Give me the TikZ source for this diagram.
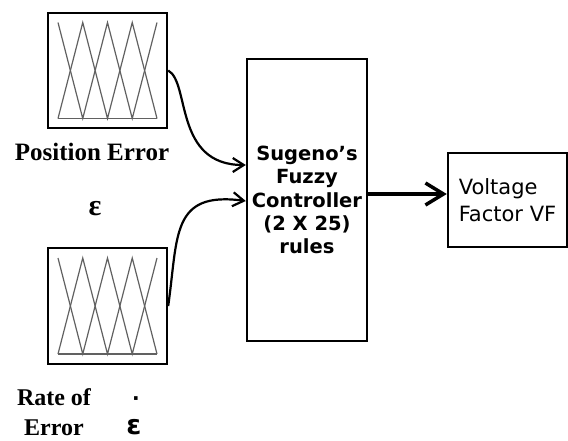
\documentclass[tikz,border=0pt]{standalone}
\usepackage{fontspec}
\setmainfont{Liberation Serif}
\newfontfamily\verdfont{DejaVu Sans}
\usetikzlibrary{arrows.meta,positioning}

\begin{document}
\begin{tikzpicture}[x=1pt,y=-1pt,>={Straight Barb[length=11pt,width=14pt]}]
  \tikzstyle{mfbox}=[rectangle,draw,line width=2.4pt,minimum width=119pt,minimum height=115pt]
  \tikzstyle{block}=[rectangle,draw,line width=2.4pt,align=center,inner sep=0pt]
  \tikzstyle{mf}=[draw=black!62,line width=1.2pt]
  \tikzstyle{link}=[->,line width=2.2pt]
  \tikzstyle{caption}=[align=center,inner sep=0pt,font=\fontsize{25pt}{30pt}\selectfont\bfseries]
  \useasboundingbox (0,0) rectangle (568,440);

  % membership function boxes
  \node[mfbox] (mfa) at (107.5,70.5) {};
  \node[mfbox,minimum height=116pt] (mfb) at (107.5,306) {};
  \foreach \b in {mfa,mfb} {
    \begin{scope}[shift={(\b.center)}]
      \draw[mf] (-49.5,48) -- (49.5,48);
      \draw[mf] (-49.5,-48) -- (-24.75,48) -- (0,-48) -- (24.75,48) -- (49.5,-48);
      \draw[mf] (-49.5,48) -- (-24.75,-48) -- (0,48) -- (24.75,-48) -- (49.5,48);
    \end{scope}
  }

  % controller and output
  \node[block,minimum width=120pt,minimum height=282pt,
        font=\verdfont\bfseries\fontsize{19.5pt}{23.3pt}\selectfont] (ctrl) at (307,200)
        {Sugeno’s\\Fuzzy\\Controller\\(2 X 25)\\rules};
  \node[block,minimum width=119pt,minimum height=94pt,align=left,
        font=\verdfont\fontsize{21pt}{27pt}\selectfont] (vf) at (507.5,200)
        {Voltage\\Factor VF};

  % labels
  \node[caption] (perr) at (92,152) {Position Error};
  \node[caption,font=\fontsize{30pt}{30pt}\selectfont\bfseries] (epsa) at (95,209) {ε};
  \node[caption,font=\fontsize{24pt}{30pt}\selectfont\bfseries] (rerr) at (54,412) {Rate of\\Error};
  \node[caption,font=\verdfont\bfseries\fontsize{27pt}{30pt}\selectfont] (epsb) at (134,427) {ε};
  \node[caption,font=\verdfont\bfseries\fontsize{20pt}{20pt}\selectfont] (dotb) at (136,401) {·};

  % connectors
  \coordinate (in1) at ([yshift=35pt]ctrl.west);
  \coordinate (in2) at ([yshift=-1pt]ctrl.west);
  \draw[link] (mfa.east) .. controls +(22,12) and +(-72,0) .. (in1);
  \draw[link] (mfb.east) .. controls +(10,-70) and +(-75,-10) .. (in2);
  \draw[->,line width=3.5pt,>={Straight Barb[length=18pt,width=22pt]}]
    ([yshift=6pt]ctrl.east) -- ([yshift=6pt]vf.west);
\end{tikzpicture}
\end{document}
